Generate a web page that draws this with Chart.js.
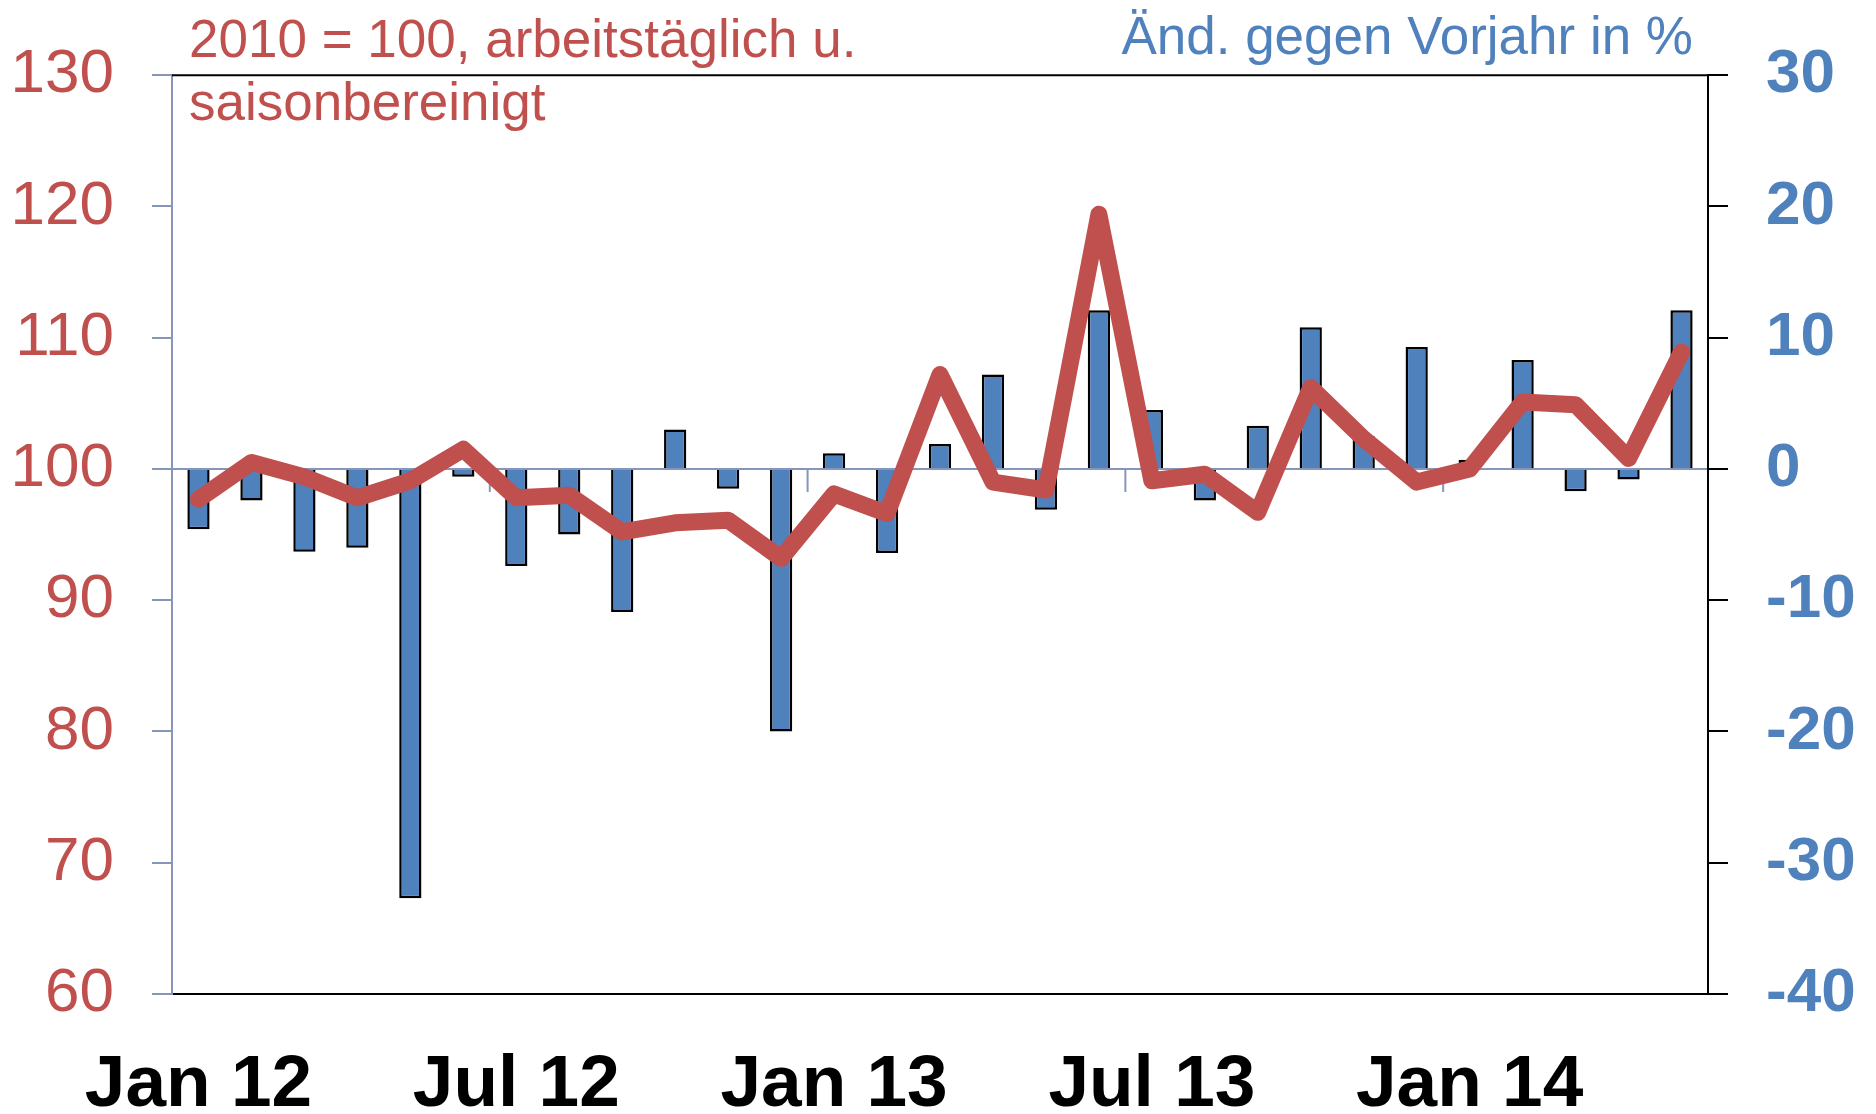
<!DOCTYPE html>
<html lang="de">
<head>
<meta charset="UTF-8" />
<title>Produktion</title>
<script src="https://cdn.jsdelivr.net/npm/chart.js"></script>
<style>
  html, body { margin: 0; padding: 0; background: #fff; }
  canvas { display: block; }
</style>
</head>
<body>
<canvas id="chart" width="1876" height="1114"></canvas>
<script>
// months Jan 12 .. May 14
const months = [
  'Jan 12', 'Feb 12', 'Mar 12', 'Apr 12', 'May 12', 'Jun 12',
  'Jul 12', 'Aug 12', 'Sep 12', 'Oct 12', 'Nov 12', 'Dec 12',
  'Jan 13', 'Feb 13', 'Mar 13', 'Apr 13', 'May 13', 'Jun 13',
  'Jul 13', 'Aug 13', 'Sep 13', 'Oct 13', 'Nov 13', 'Dec 13',
  'Jan 14', 'Feb 14', 'Mar 14', 'Apr 14', 'May 14'
];

// index, 2010 = 100 (left axis)
const indexValues = [
  97.7, 100.5, 99.4, 97.8, 99.1, 101.5,
  97.8, 98.0, 95.2, 95.9, 96.1, 93.2,
  98.1, 96.6, 107.2, 99.0, 98.4, 119.4,
  99.1, 99.6, 96.7, 106.2, 102.3, 99.0,
  100.0, 105.1, 104.9, 100.8, 108.9
];

// change on previous year in % (right axis)
const changeValues = [
  -4.6, -2.4, -6.3, -6.0, -32.7, -0.6,
  -7.4, -5.0, -10.9, 3.0, -1.5, -20.0,
  1.2, -6.4, 1.9, 7.2, -3.1, 12.1,
  4.5, -2.4, 3.3, 10.8, 2.5, 9.3,
  0.7, 8.3, -1.7, -0.8, 12.1
];

const leftTitle = ['2010 = 100, arbeitstäglich u.', 'saisonbereinigt'];
const rightTitle = 'Änd. gegen Vorjahr in %';

const RED = '#c0504d';
const BLUE = '#4f81bd';
const AXIS_GREY = '#8596ba';

Chart.defaults.font.family = "'Liberation Sans', Arial, sans-serif";

// short marks on the zero line between half-years + top frame + titles
const decorations = {
  id: 'decorations',
  beforeDatasetsDraw(chart) {
    const { ctx, scales } = chart;
    const x = scales.x, y1 = scales.y1;
    const y0 = y1.getPixelForValue(0);
    ctx.save();
    ctx.strokeStyle = AXIS_GREY;
    ctx.lineWidth = 2;
    for (let i = 5; i < months.length - 1; i += 6) {
      const px = (x.getPixelForValue(i) + x.getPixelForValue(i + 1)) / 2;
      ctx.beginPath();
      ctx.moveTo(px, y0);
      ctx.lineTo(px, y0 + 23);
      ctx.stroke();
    }
    ctx.restore();
  },
  afterDraw(chart) {
    const { ctx, chartArea } = chart;
    ctx.save();
    ctx.strokeStyle = '#000';
    ctx.lineWidth = 2;
    ctx.beginPath();
    ctx.moveTo(chartArea.left, chartArea.top);
    ctx.lineTo(chartArea.right, chartArea.top);
    ctx.stroke();

    ctx.font = "53px 'Liberation Sans', Arial, sans-serif";
    ctx.textBaseline = 'alphabetic';
    ctx.fillStyle = RED;
    ctx.textAlign = 'left';
    ctx.fillText(leftTitle[0], chartArea.left + 17, 57);
    ctx.fillText(leftTitle[1], chartArea.left + 17, 120);
    ctx.fillStyle = BLUE;
    ctx.textAlign = 'right';
    ctx.fillText(rightTitle, chartArea.right - 15, 54);
    ctx.restore();
  }
};

new Chart(document.getElementById('chart').getContext('2d'), {
  type: 'bar',
  data: {
    labels: months,
    datasets: [
      {
        type: 'line',
        label: 'Index',
        data: indexValues,
        yAxisID: 'y',
        borderColor: RED,
        borderWidth: 17,
        borderJoinStyle: 'round',
        borderCapStyle: 'round',
        pointRadius: 0,
        tension: 0,
        order: 0
      },
      {
        type: 'bar',
        label: 'Änderung',
        data: changeValues,
        yAxisID: 'y1',
        backgroundColor: BLUE,
        borderColor: '#000',
        borderWidth: 2.5,
        barPercentage: 0.42,
        categoryPercentage: 1,
        order: 1
      }
    ]
  },
  options: {
    responsive: false,
    animation: false,
    layout: { padding: { top: 74, left: 0, right: 0, bottom: 0 } },
    plugins: {
      legend: { display: false },
      tooltip: { enabled: false }
    },
    scales: {
      x: {
        offset: true,
        afterFit: (s) => { s.height = 120; },
        grid: { display: true, drawOnChartArea: false, drawTicks: false, color: 'transparent' },
        border: { display: true, color: '#000', width: 2 },
        ticks: {
          autoSkip: false,
          maxRotation: 0,
          padding: 48,
          color: '#000',
          font: { size: 73, weight: 'bold' },
          callback: (v, i) => (months[i].startsWith('Jan') || months[i].startsWith('Jul')) ? months[i] : ''
        }
      },
      y: {
        position: 'left',
        min: 60,
        max: 130,
        afterFit: (s) => { s.width = 172; },
        grid: { drawOnChartArea: false, drawTicks: true, tickLength: 20, color: AXIS_GREY, lineWidth: 2 },
        border: { display: true, color: AXIS_GREY, width: 2 },
        ticks: { stepSize: 10, padding: 38, color: RED, font: { size: 62 } }
      },
      y1: {
        position: 'right',
        min: -40,
        max: 30,
        afterFit: (s) => { s.width = 168; },
        grid: {
          drawOnChartArea: true,
          drawTicks: true,
          tickLength: 20,
          lineWidth: 2,
          color: (c) => (c.tick && c.tick.value === 0) ? AXIS_GREY : 'transparent',
          tickColor: '#000'
        },
        border: { display: true, color: '#000', width: 2 },
        ticks: { stepSize: 10, padding: 38, color: BLUE, font: { size: 62, weight: 'bold' } }
      }
    }
  },
  plugins: [decorations]
});
</script>
</body>
</html>
